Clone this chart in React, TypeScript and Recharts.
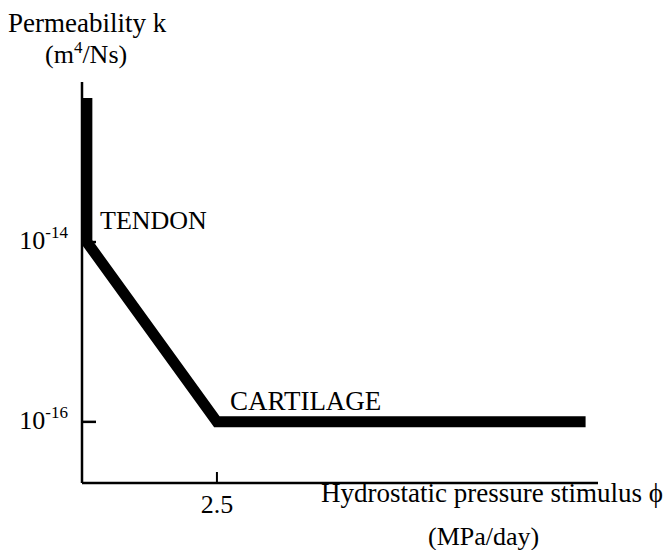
import React from 'react';
import { LineChart, Line, XAxis, YAxis } from 'recharts';

// Hydrostatic pressure stimulus (MPa/day)
const stimulus = [0.09, 0.09, 2.5, 9.33];
// Permeability k (m^4/Ns)
const permeability = [4e-13, 1e-14, 1e-16, 1e-16];
const xTicks = [2.5];
const yTicks = [1e-14, 1e-16];
const yTickExponents = ['-14', '-16'];
const tendonLabel = 'TENDON';
const cartilageLabel = 'CARTILAGE';

const data = stimulus.map((x, i) => ({ x, k: permeability[i] }));

const FONT = "'Liberation Serif', 'Times New Roman', Times, serif";
const TICK_SIZE = 6;
const TICK_MARGIN = 2;
const OFFSET = TICK_SIZE + TICK_MARGIN;

const XTick = (props: any) => {
  const { x, y, payload } = props;
  const ay = y - OFFSET; // axis line position
  return (
    <g>
      <line x1={x} y1={ay} x2={x} y2={ay - 11} stroke="#000" strokeWidth={2} />
      <text x={x} y={ay + 30} textAnchor="middle" fontFamily={FONT} fontSize={26} fill="#000">
        {payload.value}
      </text>
    </g>
  );
};

const YTick = (props: any) => {
  const { x, y, payload } = props;
  const ax = x + OFFSET; // axis line position
  const idx = yTicks.indexOf(payload.value);
  const exp = idx >= 0 ? yTickExponents[idx] : '';
  return (
    <g>
      <line x1={ax} y1={y} x2={ax + 14} y2={y} stroke="#000" strokeWidth={2.5} />
      <text x={ax - 14} y={y + 7} textAnchor="end" fontFamily={FONT} fontSize={26} fill="#000">
        <tspan>10</tspan>
        <tspan dy={-11} fontSize={17}>{exp}</tspan>
      </text>
    </g>
  );
};

export default function App() {
  return (
    <div style={{ position: 'absolute', left: 0, top: 0, width: 664, height: 550, background: '#fff' }}>
      <LineChart
        width={664}
        height={550}
        data={data}
        margin={{ top: 82, right: 66, bottom: 0, left: 0 }}
      >
        <XAxis
          dataKey="x"
          type="number"
          domain={[0, 9.56]}
          ticks={xTicks}
          allowDataOverflow
          height={67}
          axisLine={{ stroke: '#000', strokeWidth: 2.5 }}
          tickLine={false}
          tickSize={TICK_SIZE}
          tickMargin={TICK_MARGIN}
          tick={<XTick />}
          interval={0}
        />
        <YAxis
          dataKey="k"
          type="number"
          scale="log"
          domain={[Math.pow(10, -16.68), Math.pow(10, -12.22)]}
          ticks={yTicks}
          allowDataOverflow
          width={82}
          axisLine={{ stroke: '#000', strokeWidth: 2.5 }}
          tickLine={false}
          tickSize={TICK_SIZE}
          tickMargin={TICK_MARGIN}
          tick={<YTick />}
          interval={0}
        />
        <Line
          type="linear"
          dataKey="k"
          stroke="#000"
          strokeWidth={11}
          strokeLinejoin="miter"
          dot={false}
          activeDot={false}
          isAnimationActive={false}
        />
      </LineChart>
      <svg
        width={664}
        height={550}
        style={{ position: 'absolute', left: 0, top: 0, pointerEvents: 'none' }}
      >
        <text x={8} y={32} fontFamily={FONT} fontSize={27} fill="#000">Permeability k</text>
        <text x={45} y={63} fontFamily={FONT} fontSize={26} fill="#000">
          <tspan>(m</tspan>
          <tspan dy={-10} fontSize={17}>4</tspan>
          <tspan dy={10}>/Ns)</tspan>
        </text>
        <text x={100} y={229} fontFamily={FONT} fontSize={26} fill="#000">{tendonLabel}</text>
        <text x={230} y={410} fontFamily={FONT} fontSize={27} fill="#000">{cartilageLabel}</text>
        <text x={663} y={502} textAnchor="end" fontFamily={FONT} fontSize={27} fill="#000">
          Hydrostatic pressure stimulus ϕ
        </text>
        <text x={428} y={545} fontFamily={FONT} fontSize={26} fill="#000">(MPa/day)</text>
      </svg>
    </div>
  );
}
